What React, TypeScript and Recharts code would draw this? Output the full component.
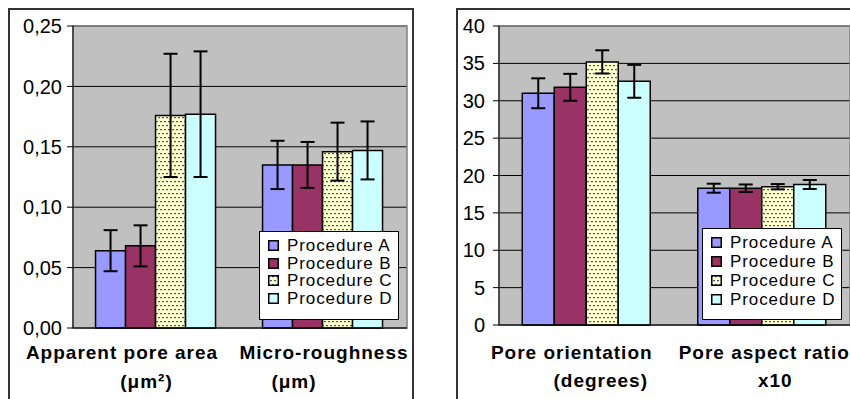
import React from 'react';
import {
  BarChart,
  Bar,
  XAxis,
  YAxis,
  CartesianGrid,
  ErrorBar,
  Legend,
  ReferenceArea
} from 'recharts';

const FONT = 'Arial, "Liberation Sans", sans-serif';

const procedures = ['Procedure A', 'Procedure B', 'Procedure C', 'Procedure D'];
const fills = ['#9999FF', '#993366', 'url(#dotsC)', '#CCFFFF'];

// left panel: pore area (µm²) and micro-roughness (µm)
const leftLine1 = ['Apparent pore area', 'Micro-roughness'];
const leftLine2 = ['(μm²)', '(μm)'];
const leftA = [0.064, 0.135];
const leftAErr = [0.017, 0.02];
const leftB = [0.068, 0.135];
const leftBErr = [0.017, 0.019];
const leftC = [0.176, 0.146];
const leftCErr = [0.051, 0.024];
const leftD = [0.177, 0.147];
const leftDErr = [0.052, 0.024];
const leftTicks = [0, 0.05, 0.1, 0.15, 0.2, 0.25];

// right panel: orientation (degrees) and aspect ratio x10
const rightLine1 = ['Pore orientation', 'Pore aspect ratio'];
const rightLine2 = ['(degrees)', 'x10'];
const rightA = [31.0, 18.3];
const rightAErr = [2.0, 0.6];
const rightB = [31.8, 18.3];
const rightBErr = [1.8, 0.5];
const rightC = [35.2, 18.5];
const rightCErr = [1.55, 0.35];
const rightD = [32.6, 18.8];
const rightDErr = [2.2, 0.6];
const rightTicks = [0, 5, 10, 15, 20, 25, 30, 35, 40];

function buildRows(names: string[], a: number[], ae: number[], b: number[], be: number[], c: number[], ce: number[], d: number[], de: number[]) {
  return names.map((name, i) => ({
    name,
    a: a[i], aErr: ae[i],
    b: b[i], bErr: be[i],
    c: c[i], cErr: ce[i],
    d: d[i], dErr: de[i]
  }));
}

const leftData = buildRows(leftLine1, leftA, leftAErr, leftB, leftBErr, leftC, leftCErr, leftD, leftDErr);
const rightData = buildRows(rightLine1, rightA, rightAErr, rightB, rightBErr, rightC, rightCErr, rightD, rightDErr);

function makeTick(line2: string[], dx1: number[], dx2: number[], y1: number, y2: number) {
  return (props: any) => {
    const { x, y, payload } = props;
    const i = payload.index;
    const style = { fontFamily: FONT, fontSize: 19, fontWeight: 700, letterSpacing: 1 };
    return (
      <g>
        <text x={x + dx1[i]} y={y + y1} textAnchor="middle" fill="#000" style={style}>
          {payload.value}
        </text>
        <text x={x + dx2[i]} y={y + y2} textAnchor="middle" fill="#000" style={style}>
          {line2[i]}
        </text>
      </g>
    );
  };
}

function Swatch({ i }: { i: number }) {
  return (
    <svg width={11} height={11} style={{ display: 'block' }}>
      <rect x={0.75} y={0.75} width={9.5} height={9.5} fill={fills[i]} stroke="#000" strokeWidth={1.5} />
    </svg>
  );
}

function makeLegend(rowH: number, padTop: number, h: number) {
  return () => (
    <div
      style={{
        width: 140,
        height: h,
        boxSizing: 'border-box',
        border: '1px solid #000',
        background: '#fff',
        paddingTop: padTop,
        paddingLeft: 8
      }}
    >
      {procedures.map((p, i) => (
        <div key={p} style={{ display: 'flex', alignItems: 'center', height: rowH }}>
          <Swatch i={i} />
          <span style={{ marginLeft: 8, fontFamily: FONT, fontSize: 17, letterSpacing: 0.9, color: '#000', lineHeight: `${rowH}px`, whiteSpace: 'nowrap' }}>
            {p}
          </span>
        </div>
      ))}
    </div>
  );
}

const keys = ['a', 'b', 'c', 'd'];

export default function App() {
  const tickStyle = { fontFamily: FONT, fontSize: 20, fill: '#000' };
  return (
    <div style={{ position: 'fixed', left: 0, top: 0, width: 850, height: 399, overflow: 'hidden', background: '#fff' }}>
      <svg width={0} height={0} style={{ position: 'absolute' }}>
        <defs>
          <pattern id="dotsC" width={4} height={8} patternUnits="userSpaceOnUse">
            <rect width={4} height={8} fill="#FFFFCC" />
            <rect x={0} y={1} width={2} height={1.2} fill="#2F5597" />
            <rect x={2} y={5} width={2} height={1.2} fill="#2F5597" />
          </pattern>
        </defs>
      </svg>

      <div style={{ position: 'absolute', left: 8, top: 8, width: 406, height: 420, border: '2px solid #333', boxSizing: 'border-box' }} />
      <div style={{ position: 'absolute', left: 456, top: 8, width: 420, height: 420, border: '2px solid #333', boxSizing: 'border-box' }} />

      <div style={{ position: 'absolute', left: 0, top: 0 }}>
        <BarChart
          width={420}
          height={399}
          data={leftData}
          margin={{ top: 26, right: 13, bottom: 0, left: 13 }}
          barCategoryGap="13.5%"
          barGap={0}
        >
          <CartesianGrid vertical={false} stroke="#000" fill="#C0C0C0" fillOpacity={1} />
          <ReferenceArea y1={0} y2={0.25} fill="none" stroke="#808080" strokeWidth={1.5} ifOverflow="visible" />
          <XAxis
            dataKey="name"
            height={71}
            axisLine={{ stroke: '#000' }}
            tickLine={false}
            tickSize={0}
            tickMargin={0}
            interval={0}
            tick={makeTick(leftLine2, [-34.5, 0.5], [-10, -29.5], 31, 60)}
          />
          <YAxis
            width={60}
            domain={[0, 0.25]}
            ticks={leftTicks}
            interval={0}
            tickFormatter={(v: number) => v.toFixed(2).replace('.', ',')}
            axisLine={{ stroke: '#000' }}
            tickLine={{ stroke: '#000' }}
            tickSize={6}
            tickMargin={5}
            tick={tickStyle}
          />
          {keys.map((k, i) => (
            <Bar key={k} dataKey={k} name={procedures[i]} fill={fills[i]} stroke="#000" strokeWidth={1.5} isAnimationActive={false}>
              <ErrorBar dataKey={`${k}Err`} width={7} strokeWidth={2} stroke="#000" isAnimationActive={false} />
            </Bar>
          ))}
          <Legend
            layout="vertical"
            align="center"
            verticalAlign="middle"
            wrapperStyle={{ left: 259, top: 231, width: 140, height: 89 }}
            content={makeLegend(17.5, 5, 89)}
          />
        </BarChart>
      </div>

      <div style={{ position: 'absolute', left: 425, top: 0 }}>
        <BarChart
          width={440}
          height={399}
          data={rightData}
          margin={{ top: 26, right: 15, bottom: 0, left: 14 }}
          barCategoryGap="13.25%"
          barGap={0}
        >
          <CartesianGrid vertical={false} stroke="#000" fill="#C0C0C0" fillOpacity={1} />
          <ReferenceArea y1={0} y2={40} fill="none" stroke="#808080" strokeWidth={1.5} ifOverflow="visible" />
          <XAxis
            dataKey="name"
            height={74}
            axisLine={{ stroke: '#000' }}
            tickLine={false}
            tickSize={0}
            tickMargin={0}
            interval={0}
            tick={makeTick(rightLine2, [-15, 2], [14, 13], 34, 62)}
          />
          <YAxis
            width={60}
            domain={[0, 40]}
            ticks={rightTicks}
            interval={0}
            axisLine={{ stroke: '#000' }}
            tickLine={{ stroke: '#000' }}
            tickSize={6}
            tickMargin={8}
            tick={tickStyle}
          />
          {keys.map((k, i) => (
            <Bar key={k} dataKey={k} name={procedures[i]} fill={fills[i]} stroke="#000" strokeWidth={1.5} isAnimationActive={false}>
              <ErrorBar dataKey={`${k}Err`} width={7} strokeWidth={2} stroke="#000" isAnimationActive={false} />
            </Bar>
          ))}
          <Legend
            layout="vertical"
            align="center"
            verticalAlign="middle"
            wrapperStyle={{ left: 277, top: 228, width: 140, height: 92 }}
            content={makeLegend(19, 4, 92)}
          />
        </BarChart>
      </div>
    </div>
  );
}
